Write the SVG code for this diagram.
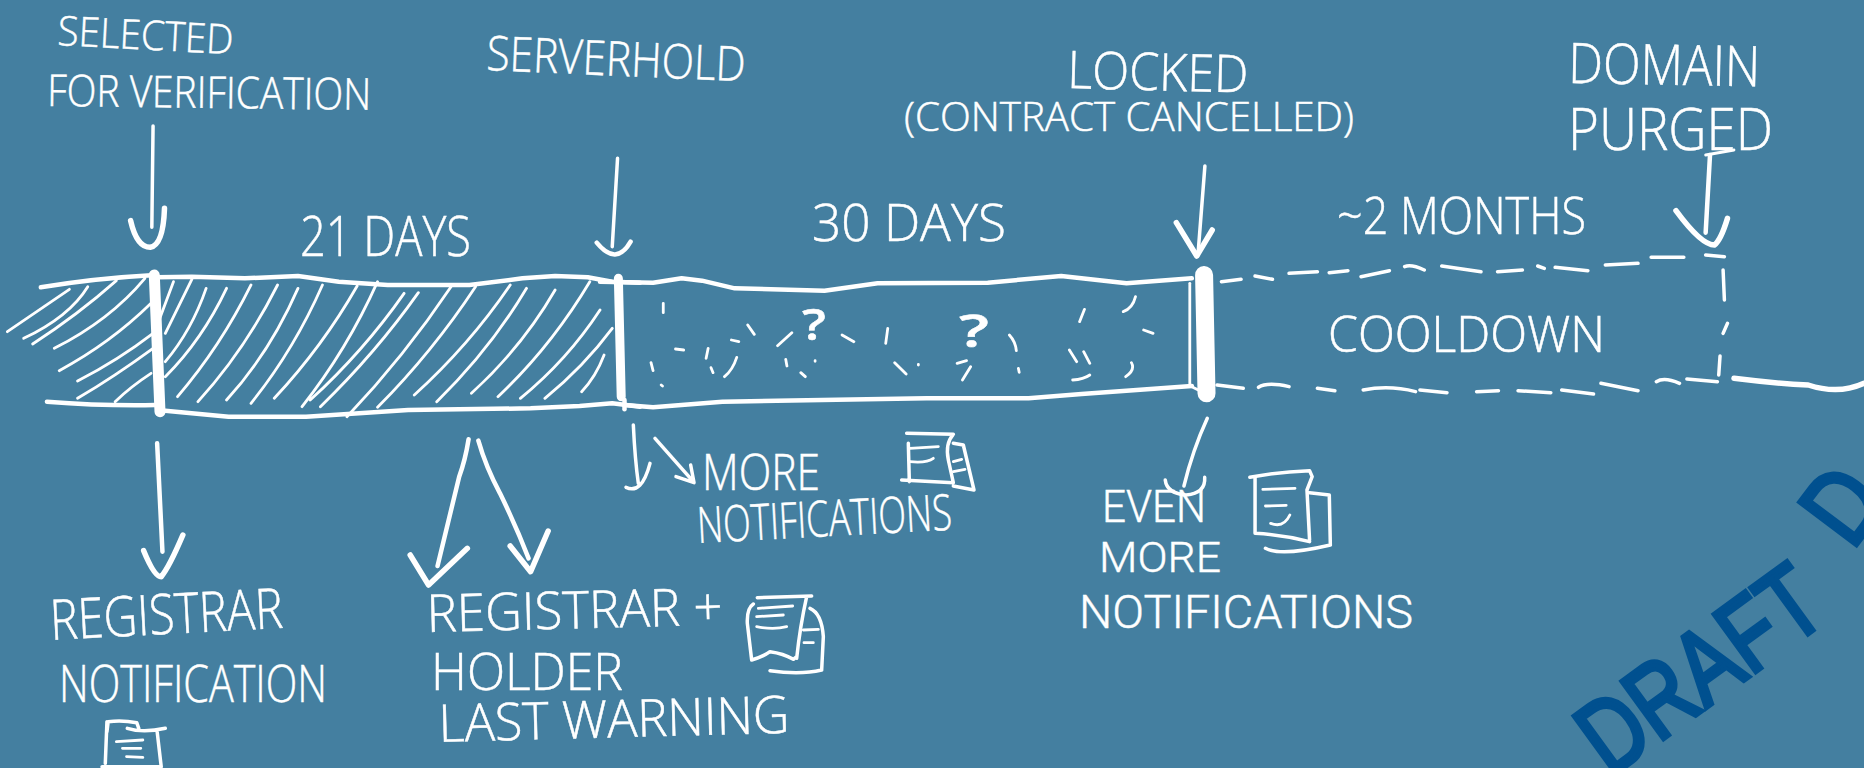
<svg xmlns="http://www.w3.org/2000/svg" width="1864" height="768" viewBox="0 0 1864 768">
<style>
path{fill:none;stroke:#fff;stroke-linecap:round;stroke-linejoin:round;vector-effect:non-scaling-stroke}
.w1{stroke-width:2}.w2{stroke-width:2.8}.w3{stroke-width:3.5}.w4{stroke-width:4.5}.w5{stroke-width:5.5}.w9{stroke-width:9}.w11{stroke-width:11}.w18{stroke-width:18}
text{fill:#fff;stroke:#fff;stroke-width:.5;font-family:"Open Sans","Liberation Sans",sans-serif;font-weight:300}
.q{font-weight:600}
.tight{font-family:Roboto,"Liberation Sans",sans-serif;font-weight:300;stroke-width:.4}
.draft{fill:#00508f;stroke:#00508f;stroke-width:4.5;font-family:"Liberation Sans",sans-serif;font-weight:400}
</style>
<rect width="1864" height="768" fill="#447fa0"/>
<g id="timeline-bar">
<g id="hatched-before" transform="scale(.40816,.33333)">
<path class="w4" d="M100 862Q230 835 380 825M115 1205Q250 1218 380 1215"/>
<path class="w2" d="M18 995L170 868M58 1015Q170 950 215 860M80 1032Q190 945 285 842M133 1045Q270 960 355 835M145 1112Q270 1030 370 910M190 1143Q290 1080 375 1000M190 1195Q280 1130 375 1045M282 1205Q320 1160 370 1120"/>
</g>
<g id="hatched-21-days" transform="scale(.40816,.33333)">
<path class="w4" d="M385 832L470 830L600 835L730 828L830 845L950 855L1150 855L1280 835L1360 828L1440 832L1500 845L1568 848M405 1232L560 1250L750 1250L1000 1230L1300 1225L1420 1218L1500 1210L1568 1220"/>
<path class="w2" d="M390 960L425 845M405 1000L470 838M405 1085Q470 990 505 865M405 1130Q495 1020 555 865M435 1190Q540 1040 615 855M485 1205Q600 1050 680 855M555 1200Q660 1060 730 865M615 1210Q720 1050 790 855M672 1195Q790 1040 875 858M740 1220Q850 1050 925 845M760 1200Q890 1055 990 880M785 1220Q920 1060 1025 878M850 1250Q990 1070 1105 860M925 1222Q1060 1055 1165 860M1015 1185Q1150 1035 1250 855M1070 1205Q1200 1050 1290 865M1155 1180Q1280 1040 1360 870M1220 1190Q1350 1040 1445 845M1275 1195Q1390 1080 1470 930M1335 1195Q1430 1100 1500 985M1425 1175Q1460 1130 1480 1065"/>
</g>
<g id="dotted-30-days" transform="translate(600,0) scale(.40816,.33333)">
<path class="w4" d="M0 845L130 848L200 835L250 842L330 865L550 872L680 850L950 848L1130 828L1290 850L1450 835M60 1215L130 1222L300 1205L800 1195L1050 1195L1180 1182L1450 1158"/>
<path class="w2" d="M155 910V938M362 975L378 1003M322 1020L340 1025M185 1047L205 1050M265 1045L260 1075M125 1088L130 1112M272 1103L277 1118M335 1072Q325 1110 305 1130M150 1155L153 1158M470 998L435 1037M593 1005L622 1025M705 985L700 1030M455 1078L458 1098M527 1082V1084M492 1118L503 1130M722 1088L750 1122M780 1093V1095M875 1090L898 1082M908 1100L888 1140M1003 1005Q1018 1025 1020 1052M1025 1105L1027 1117M1187 928L1175 965M1312 890Q1305 925 1282 935M1332 990L1355 1000M1150 1050L1168 1085M1185 1055L1200 1090M1302 1088Q1312 1110 1288 1130M1158 1140Q1185 1138 1200 1125"/>
</g>
<text class="q" x="802" y="340" font-size="44" textLength="24" lengthAdjust="spacingAndGlyphs">?</text>
<text class="q" x="959" y="347" font-size="46" textLength="30" lengthAdjust="spacingAndGlyphs">?</text>
<g id="cooldown-box" transform="translate(1180,0) scale(.43622,.33333)">
<path class="w3" d="M95 845L140 838M172 828L212 838M250 820L315 815M342 818L385 812M415 830L480 812M515 800Q530 792 560 810M600 798L690 815M728 815L785 810M820 798L835 805M860 802L935 812M975 795L1050 790M1080 772L1155 772M1205 765L1248 770M1245 810L1248 900M1255 970L1245 1000M1238 1068L1235 1125M85 1155L145 1165M180 1162Q200 1145 250 1160M315 1165L355 1172M420 1170Q480 1155 540 1175M550 1170L612 1178M680 1175L730 1172M775 1172L850 1178M875 1170L948 1182M965 1150L1050 1172M1092 1145Q1110 1130 1145 1150M1162 1137L1232 1145"/>
<path class="w5" d="M1270 1135Q1360 1150 1440 1155Q1510 1185 1568 1150"/>
</g>
<g id="separators" transform="scale(.40816,.33333)">
<path class="w11" d="M378 825L392 1235"/>
<path class="w9" d="M1515 835L1522 1190"/>
<path class="w4" d="M1530 1200V1228"/>
</g>
<g id="separator-locked" transform="translate(600,0) scale(.40816,.33333)">
<path class="w2" d="M1445 850V1155"/>
<path class="w18" d="M1480 825L1486 1180"/>
<path class="w2" d="M1450 1160L1490 1185"/>
</g>
</g>
<g id="connectors">
<g transform="scale(.40816,.33333)">
<path class="w3" d="M375 378L372 682"/>
<path class="w5" d="M320 662Q335 742 368 742Q400 735 403 625"/>
<path class="w3" d="M1513 475L1500 740"/>
<path class="w4" d="M1462 728Q1510 800 1545 725"/>
</g>
<g transform="translate(600,0) scale(.40816,.33333)">
<path class="w3" d="M1482 498L1465 765"/>
<path class="w5" d="M1412 668L1462 768L1500 690"/>
</g>
<g transform="translate(1180,0) scale(.43622,.33333)">
<path class="w4" d="M1215 465L1205 698"/>
<path class="w2" d="M1205 465L1270 450"/>
<path class="w5" d="M1137 632Q1195 735 1225 735Q1240 720 1255 655"/>
</g>
<g transform="translate(0,420) scale(.40816,.33333)">
<path class="w4" d="M385 70L398 395"/>
<path class="w5" d="M352 392Q378 470 395 470Q415 440 448 345"/>
<path class="w4" d="M1148 58Q1140 120 1125 170L1072 438"/>
<path class="w5" d="M1005 405L1050 495L1145 385"/>
<path class="w4" d="M1172 62Q1190 140 1225 220Q1265 320 1295 415"/>
<path class="w5" d="M1250 378L1300 455L1343 333"/>
</g>
<g transform="translate(600,400) scale(.33333)">
<path class="w3" d="M100 75Q105 180 115 250M78 262Q125 285 150 190M165 115L280 245M228 230L282 248L272 195"/>
</g>
<g transform="translate(1050,400) scale(.51913,.33333)">
<path class="w3" d="M303 55Q275 150 258 258"/>
<path class="w3" d="M222 240Q225 280 262 285Q300 280 298 232"/>
</g>
</g>
<g id="node-selected">
<text transform="translate(57,45) rotate(3)" font-size="41" textLength="176" lengthAdjust="spacingAndGlyphs">SELECTED</text>
<text transform="translate(47,106) rotate(.7)" font-size="44" textLength="324" lengthAdjust="spacingAndGlyphs">FOR VERIFICATION</text>
</g>
<g id="node-serverhold"><text transform="translate(486,70) rotate(2.5)" font-size="48" textLength="259" lengthAdjust="spacingAndGlyphs">SERVERHOLD</text></g>
<g id="node-locked">
<text transform="translate(1067,88) rotate(1.5)" font-size="52" textLength="181" lengthAdjust="spacingAndGlyphs">LOCKED</text>
<text x="904" y="131" font-size="40" textLength="450" lengthAdjust="spacingAndGlyphs">(CONTRACT CANCELLED)</text>
</g>
<g id="node-purged">
<text transform="translate(1568,83) rotate(1)" font-size="56" textLength="192" lengthAdjust="spacingAndGlyphs">DOMAIN</text>
<text x="1568" y="150" font-size="58" textLength="205" lengthAdjust="spacingAndGlyphs">PURGED</text>
</g>
<g id="label-21-days"><text x="300" y="256" font-size="56" textLength="171" lengthAdjust="spacingAndGlyphs">21 DAYS</text></g>
<g id="label-30-days"><text x="812" y="241" font-size="52" textLength="194" lengthAdjust="spacingAndGlyphs">30 DAYS</text></g>
<g id="label-2-months"><text x="1337" y="234" font-size="52" textLength="249" lengthAdjust="spacingAndGlyphs">~2 MONTHS</text></g>
<g id="label-cooldown"><text x="1328" y="352" font-size="50" textLength="277" lengthAdjust="spacingAndGlyphs">COOLDOWN</text></g>
<g id="node-registrar-notification">
<text transform="translate(51,640) rotate(-3)" font-size="56" textLength="233" lengthAdjust="spacingAndGlyphs">REGISTRAR</text>
<text x="59" y="702" font-size="52" textLength="268" lengthAdjust="spacingAndGlyphs">NOTIFICATION</text>
<g transform="translate(0,420) scale(.40816,.33333)"><path class="w3" d="M262 935L265 905Q300 900 335 908L340 925M312 925Q350 940 405 925M262 905L258 1030M385 935L395 1040M250 1040H395"/><path class="w2" d="M285 965L350 960M300 985H345M310 1010L350 1012"/></g>
</g>
<g id="node-last-warning">
<text transform="translate(427,632) rotate(-1.4)" font-size="52" textLength="296" lengthAdjust="spacingAndGlyphs">REGISTRAR +</text>
<text x="431" y="690" font-size="52" textLength="192" lengthAdjust="spacingAndGlyphs">HOLDER</text>
<text transform="translate(439,742) rotate(-1.5)" font-size="52" textLength="351" lengthAdjust="spacingAndGlyphs">LAST WARNING</text>
<g transform="translate(600,400) scale(.33333)"><path class="w3" d="M472 593L635 588M460 612Q440 625 442 670L455 780Q490 770 510 755Q550 760 580 778L590 770M620 590Q600 680 590 775M630 625Q665 640 670 710L665 810M510 812Q600 825 665 810"/><path class="w2" d="M475 625L578 618M470 650L550 645M470 680Q520 690 560 680M610 690L655 688M612 728H640"/></g>
</g>
<g id="node-more-notifications">
<text x="702" y="490" font-size="50" textLength="118" lengthAdjust="spacingAndGlyphs">MORE</text>
<text transform="translate(698,543) rotate(-3)" font-size="50" textLength="255" lengthAdjust="spacingAndGlyphs">NOTIFICATIONS</text>
<g transform="translate(600,400) scale(.33333)"><path class="w3" d="M920 100L1060 103M925 130L928 245M905 240L1060 248M1060 103Q1035 130 1045 180L1060 248M1060 130L1090 135L1122 270L1060 258"/><path class="w2" d="M930 145L1015 140M930 185Q980 190 1000 175M1060 185L1085 178M1060 215L1095 208"/></g>
</g>
<g id="node-even-more-notifications">
<text class="tight" x="1102" y="522" font-size="44" textLength="104" lengthAdjust="spacingAndGlyphs">EVEN</text>
<text class="tight" x="1099" y="572" font-size="42" textLength="122" lengthAdjust="spacingAndGlyphs">MORE</text>
<text class="tight" x="1079" y="628" font-size="46" textLength="334" lengthAdjust="spacingAndGlyphs">NOTIFICATIONS</text>
<g transform="translate(1050,400) scale(.51913,.33333)"><path class="w3" d="M385 232Q440 215 500 212L505 230L495 270L500 420M395 232V400Q450 405 500 425M500 278L538 285L540 435M415 445Q445 470 540 435"/><path class="w2" d="M410 268L472 265M415 318L455 316M425 370Q450 385 462 345"/></g>
</g>
<g id="draft-mark">
<text class="draft" transform="translate(1610,778) rotate(-36)" font-size="104" textLength="273" lengthAdjust="spacingAndGlyphs">DRAFT</text>
<text class="draft" transform="translate(1852,551) rotate(-53)" font-size="104" textLength="62" lengthAdjust="spacingAndGlyphs">D</text>
</g>
</svg>
